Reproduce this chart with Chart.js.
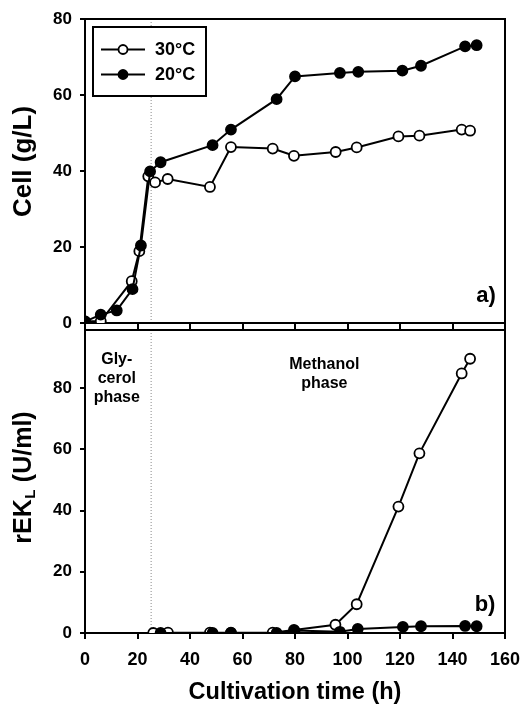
<!DOCTYPE html>
<html><head><meta charset="utf-8">
<script src="https://cdn.jsdelivr.net/npm/chart.js@4.4.0/dist/chart.umd.min.js"></script>
<style>
html,body{margin:0;padding:0;background:#fff;width:523px;height:707px;overflow:hidden;}
#wrap{position:relative;width:523px;height:707px;background:#fff;}
canvas{position:absolute;left:0;}
#c1{top:0;}
#c2{top:320px;}
</style></head><body>
<div id="wrap">
<canvas id="c1" width="523" height="340"></canvas>
<canvas id="c2" width="523" height="387"></canvas>
</div>
<script>
// ---------- data ----------
const xTicks = [0, 20, 40, 60, 80, 100, 120, 140, 160];
const cellTicks = [0, 20, 40, 60, 80];
const actTicks = [0, 20, 40, 60, 80];
const seriesLabels = ['30°C', '20°C'];

const time30Cell = [0, 6, 17.8, 20.7, 24.1, 26.7, 31.5, 47.6, 55.6, 71.5, 79.6, 95.5, 103.5, 119.4, 127.4, 143.5, 146.7];
const cell30     = [0.4, 0.5, 11.0, 18.9, 38.6, 37.0, 37.9, 35.8, 46.3, 45.9, 44.0, 45.0, 46.2, 49.1, 49.3, 50.9, 50.6];

const time20Cell = [0, 6, 12.1, 18.1, 21.3, 24.8, 28.8, 48.6, 55.6, 73.0, 80.0, 97.1, 104.1, 120.9, 128.0, 144.8, 149.2];
const cell20     = [0.4, 2.2, 3.3, 8.9, 20.4, 39.9, 42.3, 46.8, 50.9, 58.9, 64.9, 65.8, 66.1, 66.4, 67.7, 72.8, 73.1];

const time30Act = [26.0, 31.6, 47.6, 55.6, 71.5, 79.6, 95.4, 103.5, 119.4, 127.4, 143.5, 146.7];
const act30     = [0, 0.1, 0.1, 0.1, 0.1, 1.0, 2.7, 9.4, 41.3, 58.7, 84.8, 89.6];

const time20Act = [28.8, 48.6, 55.6, 73.0, 79.8, 97.1, 103.9, 121.1, 128.0, 144.8, 149.2];
const act20     = [0, 0, 0, 0, 0.8, 0.4, 1.3, 2.0, 2.2, 2.3, 2.2];

const phaseBoundary = 25;
const panelLabels = ['a)', 'b)'];
const glyPhaseText = ['Gly-', 'cerol', 'phase'];
const metPhaseText = ['Methanol', 'phase'];
const xTitle = 'Cultivation time (h)';
const cellTitle = 'Cell (g/L)';
const actTitle = ['rEK', 'L', ' (U/ml)'];

// ---------- helpers ----------
const FONT = '"Liberation Sans", Arial, Helvetica, sans-serif';
const pts = (xs, ys) => xs.map((x, i) => ({x: x, y: ys[i]}));
const fixTicks = arr => s => { s.ticks = arr.map(v => ({value: v})); };

function ds(label, data, filled) {
  return {
    label: label, data: data,
    borderColor: '#000', borderWidth: 2, tension: 0, fill: false,
    pointRadius: 5, pointHoverRadius: 5, pointBorderWidth: 1.8,
    pointBorderColor: '#000', pointBackgroundColor: filled ? '#000' : '#fff',
    order: filled ? 0 : 1
  };
}

function xScale(showLabels, height) {
  return {
    type: 'linear', min: 0, max: 160,
    afterBuildTicks: fixTicks(xTicks),
    afterFit: s => { s.height = height; s.paddingLeft = 0; s.paddingRight = 0; },
    grid: {drawOnChartArea: false, drawTicks: true, tickLength: 6, color: '#000', lineWidth: 2},
    border: {display: true, color: '#000', width: 2},
    ticks: {
      color: '#000', padding: 10,
      font: {family: FONT, size: 18, weight: 'bold'},
      callback: v => showLabels ? String(v) : ''
    },
    title: showLabels ? {display: true, text: xTitle, color: '#000',
      font: {family: FONT, size: 23.5, weight: 'bold'}, padding: {top: 0, bottom: 0}} : {display: false}
  };
}

function yScale(max, ticks) {
  return {
    type: 'linear', min: 0, max: max,
    afterBuildTicks: fixTicks(ticks),
    afterFit: s => { s.width = 85; s.paddingTop = 0; s.paddingBottom = 0; },
    grid: {drawOnChartArea: false, drawTicks: true, tickLength: 5, color: '#000', lineWidth: 2},
    border: {display: true, color: '#000', width: 2},
    ticks: {color: '#000', padding: 8, font: {family: FONT, size: 17, weight: 'bold'}},
    title: {display: false}
  };
}

const framePlugin = {
  id: 'frame',
  beforeDatasetsDraw(chart) {
    const {ctx, chartArea: a, scales} = chart;
    ctx.save();
    const bx = scales.x.getPixelForValue(phaseBoundary);
    ctx.strokeStyle = '#8a8a8a'; ctx.lineWidth = 1; ctx.setLineDash([1, 2]);
    ctx.beginPath(); ctx.moveTo(bx + 0.5, a.top); ctx.lineTo(bx + 0.5, a.bottom); ctx.stroke();
    ctx.setLineDash([]);
    ctx.strokeStyle = '#000'; ctx.lineWidth = 2;
    ctx.strokeRect(a.left, a.top, a.right - a.left, a.bottom - a.top);
    ctx.restore();
  }
};

const topDecor = {
  id: 'topDecor',
  afterDatasetsDraw(chart) {
    const {ctx, chartArea: a, scales} = chart;
    ctx.save();
    const bx = a.left + 8, by = a.top + 8, bw = 113, bh = 69;
    ctx.fillStyle = '#fff'; ctx.fillRect(bx, by, bw, bh);
    ctx.strokeStyle = '#000'; ctx.lineWidth = 2; ctx.strokeRect(bx, by, bw, bh);
    const rows = [by + 22.5, by + 47.5];
    seriesLabels.forEach((lab, i) => {
      const y = rows[i];
      ctx.strokeStyle = '#000'; ctx.lineWidth = 2;
      ctx.beginPath(); ctx.moveTo(bx + 8, y); ctx.lineTo(bx + 52, y); ctx.stroke();
      ctx.beginPath(); ctx.arc(bx + 30, y, 4.5, 0, Math.PI * 2);
      ctx.fillStyle = i === 0 ? '#fff' : '#000'; ctx.fill();
      ctx.lineWidth = 1.8; ctx.stroke();
      ctx.fillStyle = '#000';
      ctx.font = 'bold 18px ' + FONT;
      ctx.textAlign = 'left'; ctx.textBaseline = 'middle';
      ctx.fillText(lab, bx + 62, y + 1);
    });
    ctx.font = 'bold 22px ' + FONT;
    ctx.textAlign = 'center'; ctx.textBaseline = 'middle';
    ctx.fillText(panelLabels[0], scales.x.getPixelForValue(152.8), scales.y.getPixelForValue(7.0));
    // y title
    ctx.translate(22, 161.5); ctx.rotate(-Math.PI / 2);
    ctx.font = 'bold 26px ' + FONT;
    ctx.textAlign = 'center'; ctx.textBaseline = 'alphabetic';
    ctx.fillText(cellTitle, 0, 9);
    ctx.restore();
  }
};

const bottomDecor = {
  id: 'bottomDecor',
  afterDatasetsDraw(chart) {
    const {ctx, chartArea: a, scales} = chart;
    ctx.save();
    ctx.fillStyle = '#000';
    ctx.textAlign = 'center'; ctx.textBaseline = 'middle';
    ctx.font = 'bold 16px ' + FONT;
    const glyY = [89.4, 83.2, 77.0];
    glyPhaseText.forEach((t, i) => ctx.fillText(t, scales.x.getPixelForValue(12.1), scales.y.getPixelForValue(glyY[i])));
    const metY = [87.6, 81.5];
    metPhaseText.forEach((t, i) => ctx.fillText(t, scales.x.getPixelForValue(91.2), scales.y.getPixelForValue(metY[i])));
    ctx.font = 'bold 22px ' + FONT;
    ctx.fillText(panelLabels[1], scales.x.getPixelForValue(152.4), scales.y.getPixelForValue(9.2));
    // y title with subscript
    const cx = 22, cy = (a.top + a.bottom) / 2 - 4;
    ctx.translate(cx, cy); ctx.rotate(-Math.PI / 2);
    const big = 'bold 25px ' + FONT, small = 'bold 15px ' + FONT;
    ctx.font = big; const w1 = ctx.measureText(actTitle[0]).width, w3 = ctx.measureText(actTitle[2]).width;
    ctx.font = small; const w2 = ctx.measureText(actTitle[1]).width;
    let x = -(w1 + w2 + w3 + 1) / 2;
    ctx.textAlign = 'left'; ctx.textBaseline = 'alphabetic';
    ctx.font = big; ctx.fillText(actTitle[0], x, 9); x += w1;
    ctx.font = small; ctx.fillText(actTitle[1], x + 0.5, 13); x += w2 + 1;
    ctx.font = big; ctx.fillText(actTitle[2], x, 9);
    ctx.restore();
  }
};

const common = {
  responsive: false, animation: false,
  events: [],
  plugins: {legend: {display: false}, tooltip: {enabled: false}}
};

new Chart(document.getElementById('c1'), {
  type: 'line',
  data: {datasets: [ds(seriesLabels[0], pts(time30Cell, cell30), false), ds(seriesLabels[1], pts(time20Cell, cell20), true)]},
  options: Object.assign({}, common, {
    layout: {padding: {top: 19, right: 18, left: 0, bottom: 0}},
    scales: {x: xScale(false, 17), y: yScale(80, cellTicks)}
  }),
  plugins: [framePlugin, topDecor]
});

new Chart(document.getElementById('c2'), {
  type: 'line',
  data: {datasets: [ds(seriesLabels[0], pts(time30Act, act30), false), ds(seriesLabels[1], pts(time20Act, act20), true)]},
  options: Object.assign({}, common, {
    layout: {padding: {top: 10, right: 18, left: 0, bottom: 0}},
    scales: {x: xScale(true, 74), y: yScale(99, actTicks)}
  }),
  plugins: [framePlugin, bottomDecor]
});
</script>
</body></html>
